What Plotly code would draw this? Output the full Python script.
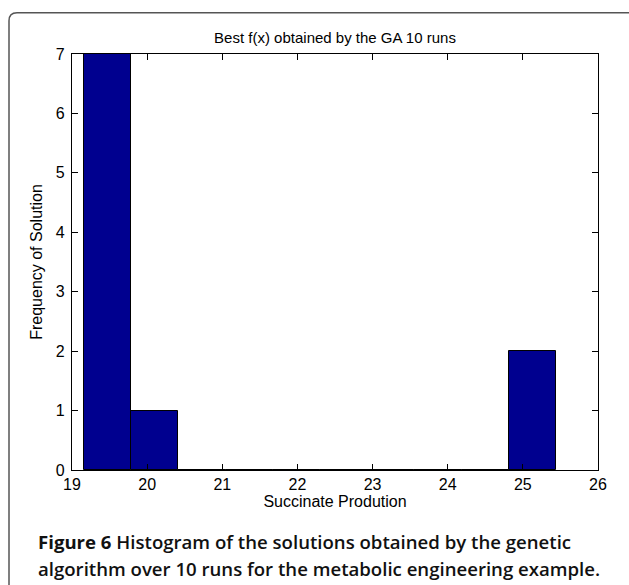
import plotly.graph_objects as go

# ---- data ----
bin_centers = [19.47, 20.10, 20.73, 21.36, 21.99, 22.62, 23.24, 23.87, 24.50, 25.13]
frequencies = [7, 1, 0, 0, 0, 0, 0, 0, 0, 2]
bin_width = 0.629
x_ticks = [19, 20, 21, 22, 23, 24, 25, 26]
y_ticks = [0, 1, 2, 3, 4, 5, 6, 7]

title_text = "Best f(x) obtained by the GA 10 runs"
x_title = "Succinate Prodution"
y_title = "Frequency of Solution"
caption_line1 = "<b>Figure 6</b> Histogram of the solutions obtained by the genetic"
caption_line2 = "algorithm over 10 runs for the metabolic engineering example."

# ---- layout geometry (pixels) ----
W, H = 629, 585
L, R, T, B = 72, 598, 54, 470
pw, ph = R - L, B - T


def px(x):
    return (x - L) / pw


def py(y):
    return (B - y) / ph


fig = go.Figure()
fig.add_trace(go.Bar(
    x=bin_centers, y=frequencies, width=[bin_width] * len(bin_centers),
    marker=dict(color="#00008F", line=dict(color="#000000", width=1)),
    showlegend=False, hoverinfo="x+y",
))

FAM = "Liberation Sans, Arial, sans-serif"
tick_font = dict(family=FAM, size=16, color="#000000")

fig.update_layout(
    width=W, height=H,
    margin=dict(l=L, r=W - R, t=T, b=H - B, pad=0),
    paper_bgcolor="white", plot_bgcolor="white",
    bargap=0,
    font=dict(family=FAM, size=15, color="#000000"),
    title=dict(text=title_text, x=px((L + R) / 2), xref="paper", xanchor="center",
               y=1 - 38 / H, yref="container", yanchor="middle",
               font=dict(family=FAM, size=15, color="#000000")),
    xaxis=dict(range=[19, 26], tickvals=x_ticks, ticks="inside", ticklen=6, tickwidth=1,
               tickcolor="black", showline=True, linecolor="black", linewidth=1.3,
               mirror="ticks", showgrid=False, zeroline=False, ticklabelstandoff=0,
               tickfont=tick_font,
               title=dict(text=x_title, standoff=2, font=dict(family=FAM, size=16))),
    yaxis=dict(range=[0, 7], tickvals=y_ticks, ticks="inside", ticklen=6, tickwidth=1,
               tickcolor="black", showline=True, linecolor="black", linewidth=1.3,
               mirror="ticks", showgrid=False, zeroline=False, ticklabelstandoff=3,
               tickfont=tick_font,
               title=dict(text=y_title, standoff=9, font=dict(family=FAM, size=16))),
)

# rounded frame (open at right and bottom)
x0, y0, r = 9, 12.7, 8
path = (f"M {px(x0)},{py(H + 20)} L {px(x0)},{py(y0 + r)} "
        f"Q {px(x0)},{py(y0)} {px(x0 + r)},{py(y0)} L {px(W + 20)},{py(y0)}")
fig.add_shape(type="path", path=path, xref="paper", yref="paper",
              line=dict(color="#555555", width=1.5))

cap_font = dict(family="Open Sans, sans-serif", size=18.6, color="#111111", weight=600)
fig.add_annotation(text=caption_line1, x=px(36), y=py(541), xref="paper", yref="paper",
                   xanchor="left", yanchor="middle", showarrow=False, font=cap_font)
fig.add_annotation(text=caption_line2, x=px(36), y=py(568), xref="paper", yref="paper",
                   xanchor="left", yanchor="middle", showarrow=False, font=cap_font)

fig.write_html("out.html", config={"displayModeBar": False},
               post_script="document.body.style.margin='0px';")
